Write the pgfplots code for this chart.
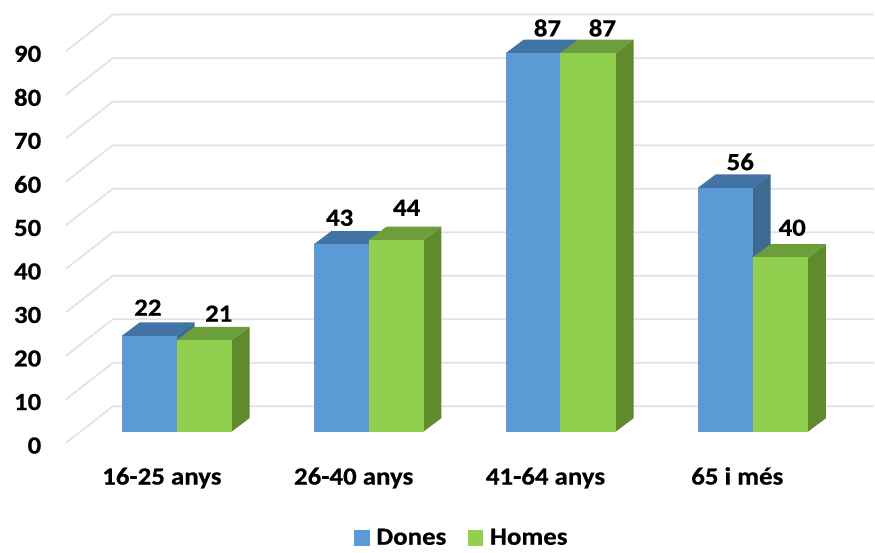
\documentclass[border=0pt]{standalone}
\usepackage{pgfplots}
\pgfplotsset{compat=1.18}
\usepackage{fontspec}
\setmainfont{Carlito}[FakeStretch=1.09,BoldFeatures={FakeStretch=1.09,FakeBold=0.6}]
\definecolor{blF}{HTML}{5B9BD5}\definecolor{blT}{HTML}{4174A5}\definecolor{blS}{HTML}{3D6A91}
\definecolor{grF}{HTML}{90D04E}\definecolor{grT}{HTML}{6D9E3C}\definecolor{grS}{HTML}{608A2E}
\definecolor{gridc}{HTML}{E2E2E2}
\newcommand\lab{\fontsize{18.5pt}{20pt}\selectfont\bfseries}
% bar: left x, right x, value, colour prefix
\newcommand\barr[4]{%
 \pgfmathsetmacro\xa{#1+17.8}\pgfmathsetmacro\xb{#2+17.8}\pgfmathsetmacro\yt{#3+3.08}%
 \edef\tmp{\noexpand\addplot[forget plot,fill=#4S,draw=none] coordinates {(#2,0) (\xb,3.08) (\xb,\yt) (#2,#3)} --cycle;
 \noexpand\addplot[forget plot,fill=#4T,draw=none] coordinates {(#1,#3) (\xa,\yt) (\xb,\yt) (#2,#3)} --cycle;
 \noexpand\addplot[forget plot,fill=#4F,draw=none] coordinates {(#1,0) (#1,#3) (#2,#3) (#2,0)} --cycle;}\tmp}
\begin{document}
\begin{tikzpicture}
\begin{axis}[
 scale only axis,
 width=620.25pt,
 height=332.475pt,
 xmin=48,xmax=875,
 ymin=-2.6,ymax=99.17,
 clip=false,
 axis line style={draw=none},
 tick style={draw=none},
 xtick={162,354,546,738},
 xticklabels={16-25 anys,26-40 anys,41-64 anys,65 i més},
 ytick={0,10,...,90},
 /pgf/number format/assume math mode=true,
 ticklabel style={font=\lab},
 yticklabel style={anchor=east,xshift=-1.5pt,yshift=-10.5pt},
 xticklabel style={anchor=base,yshift=-31.3pt},
 legend style={at={(axis cs:462.5,-24.4)},anchor=center,draw=none,fill=none,legend columns=2,font=\lab,
   /tikz/every odd column/.append style={column sep=3pt},
   /tikz/every even column/.append style={column sep=14pt}},
 legend image code/.code={\fill[#1,draw=none] (0pt,-5.9pt) rectangle (11.8pt,5.9pt);},
]
\path (axis cs:0,-26.4) rectangle (axis cs:875,99.17);
\pgfplotsforeachungrouped \v in {0,10,...,90}{%
 \pgfmathsetmacro\ya{\v-2.6}\pgfmathsetmacro\yb{\v+5.81}%
 \edef\tmp{\noexpand\addplot[forget plot,gridc,line width=1.3pt] coordinates {(66,\ya) (113,\yb) (875,\yb)};}\tmp}
\barr{122}{177}{22}{bl}\barr{177}{232}{21}{gr}
\barr{314}{369}{43}{bl}\barr{369}{424}{44}{gr}
\barr{506.5}{561}{87}{bl}\barr{561}{616.5}{87}{gr}
\barr{698.5}{753.5}{56}{bl}\barr{753.5}{809}{40}{gr}
\addplot[forget plot,draw=none,mark=none,nodes near coords,point meta=explicit symbolic,
  nodes near coords style={anchor=center,font=\lab,inner sep=0pt}]
 table[x=x,y expr=\thisrow{v}+\thisrow{dy},meta=v]{
x v dy
148 22 6.47
219 21 6.09
340 43 6.13
407 44 7.42
548 87 5.74
603 87 5.74
741 56 5.98
793 40 6.83
};
\addlegendimage{fill=blF}
\addlegendentry{Dones}
\addlegendimage{fill=grF}
\addlegendentry{Homes}
\end{axis}
\end{tikzpicture}
\end{document}
